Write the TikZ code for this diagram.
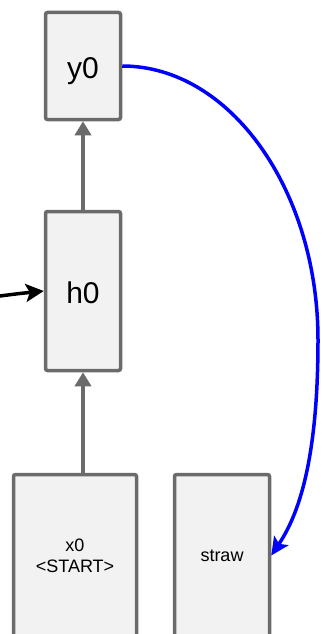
\documentclass[tikz,border=0pt]{standalone}
\usepackage{fontspec}
\setmainfont{Liberation Sans}
\usepackage{xcolor}
\usetikzlibrary{arrows.meta, positioning}
\definecolor{cellgray}{RGB}{107,107,107}
\definecolor{cellfill}{RGB}{242,242,242}
\tikzset{
  cell/.style={rectangle, rounded corners=2pt, draw=cellgray, fill=cellfill, line width=3.5pt,
               inner sep=0pt, minimum width=75pt, align=center},
  bigcell/.style={cell, font=\fontsize{30}{34}\selectfont, text height=25pt, text depth=0pt},
  smallcell/.style={cell, font=\fontsize{18}{21}\selectfont},
  uparrow/.style={-{Triangle[length=14pt, width=16pt]}, line width=3.5pt, draw=cellgray},
  inarrow/.style={-{Stealth[length=18pt, width=18pt, inset=4pt]}, line width=3.5pt, draw=black},
  feedarrow/.style={-{Stealth[length=18pt, width=17pt, inset=4pt]}, line width=3.5pt, draw=blue},
}
\begin{document}
\begin{tikzpicture}[x=1pt, y=-1pt]

  \useasboundingbox (0,0) rectangle (322,634);

  %% cells
  \node[bigcell, minimum height=107pt] (y0) at (83, 66) {y0};
  \node[bigcell, minimum height=159pt] (h0) at (83, 291) {h0};
  \node[smallcell, minimum width=123pt, minimum height=162pt] (x0) at (75, 555.5) {x0\\<START>};
  \node[smallcell, minimum width=95pt, minimum height=162pt] (straw) at (222, 555.5) {straw};

  %% incoming state from the left
  \coordinate (hin) at (-15, 298);

  %% Arrows
  \draw[uparrow] (h0.south |- x0.north) -- (h0.south);
  \draw[uparrow] (h0.north) -- (y0.south);
  \draw[inarrow] (hin) .. controls (15, 294) .. (h0.west);
  \draw[feedarrow] (y0.east) .. controls (230, 66) and (318, 190) .. (318, 340)
                   .. controls (318, 470) and (295, 520) .. (straw.east);

\end{tikzpicture}
\end{document}
